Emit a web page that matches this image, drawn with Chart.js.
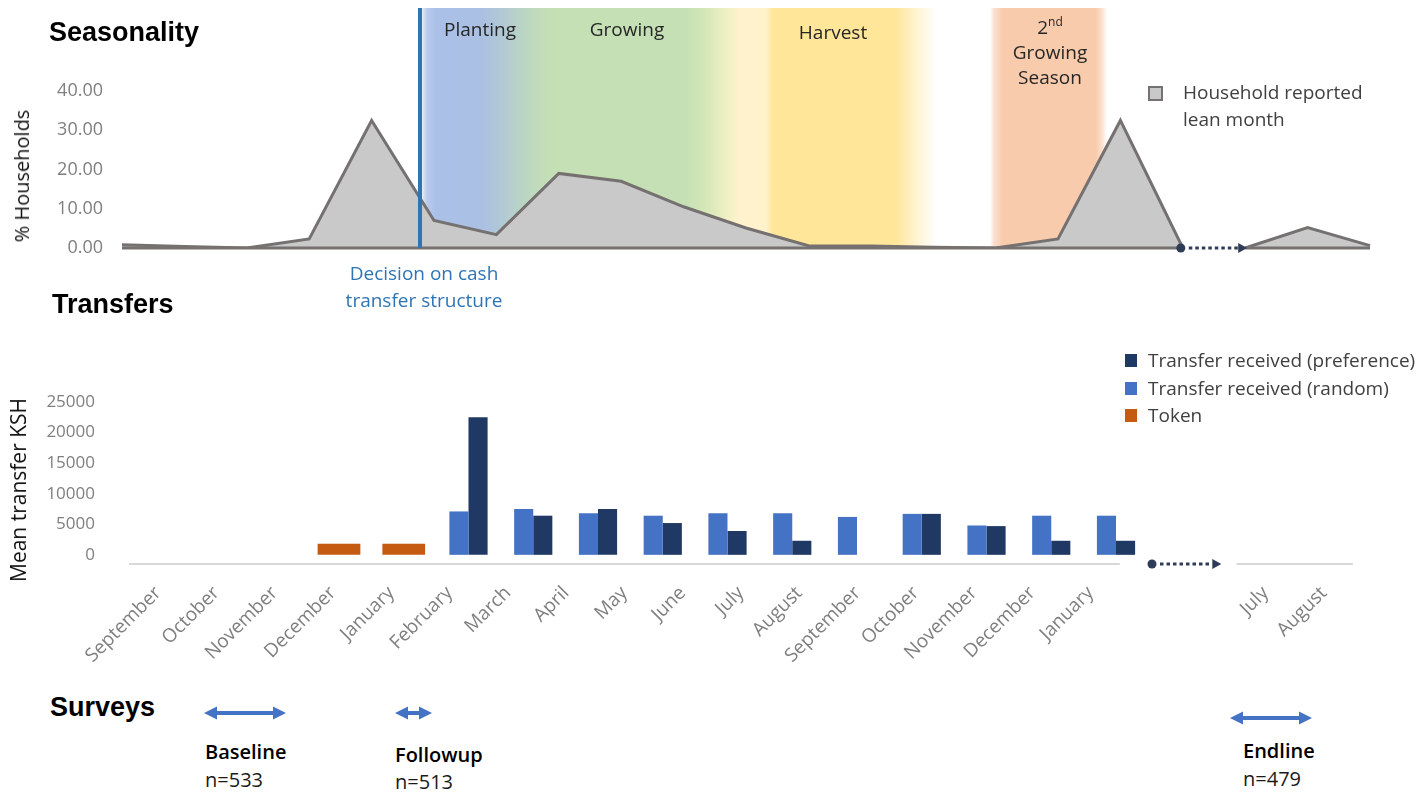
<!DOCTYPE html>
<html lang="en">
<head>
<meta charset="utf-8">
<title>Seasonality, transfers and surveys</title>
<script src="https://cdn.jsdelivr.net/npm/chart.js@4.4.1/dist/chart.umd.min.js"></script>
<style>
  html, body { margin:0; padding:0; background:#fff; }
  #page { position:relative; width:1422px; height:793px; overflow:hidden;
          font-family:"Open Sans","DejaVu Sans",sans-serif; color:#262626; }
  .abs { position:absolute; white-space:nowrap; }
  .head { font-family:"Liberation Sans",Arial,sans-serif; font-weight:700; font-size:27px; line-height:26px; color:#000; }
  .phase { font-size:19px; line-height:25px; color:#262626; text-align:center; transform:translateX(-50%); }
  .phase sup { font-size:12px; line-height:0; position:relative; top:-1px; }
  .ytitle { font-size:20px; line-height:24px; color:#111; transform:translate(-50%,-50%) rotate(-90deg); }
  .legtxt { font-size:19px; line-height:27px; color:#404040; }
  .survey { font-size:20px; line-height:28px; color:#000; }
  canvas { position:absolute; left:0; }
</style>
</head>
<body>
<div id="page">

  <!-- season bands behind the lean-month area -->
  <div class="abs" style="left:421px; top:8px; width:516px; height:240px;
       background:linear-gradient(to right,
         #ffffff 0px, #dce5f5 2px, #b9cbec 6px, #abc0e7 15px, #aac0e3 60px, #b1c8d6 80px,
         #b9d4c5 100px, #c2ddb8 120px, #c5e0b4 135px, #c5e0b4 265px, #d6e7b8 285px,
         #eef0c2 305px, #fff2cc 318px, #fff2cc 345px, #ffe699 352px, #ffe699 475px,
         #fff3d1 495px, #ffffff 516px);"></div>
  <div class="abs" style="left:990px; top:8px; width:117px; height:240px;
       background:linear-gradient(to right,
         rgba(248,203,173,0) 0px, #fbe0cf 4px, #f8cbad 13px, #f8cbad 106px,
         #fbe0cf 112px, rgba(248,203,173,0) 117px);"></div>

  <canvas id="season" width="1422" height="290" style="top:0;"></canvas>

  <!-- moment the transfer structure was decided -->
  <div class="abs" style="left:418px; top:8px; width:4px; height:240px; background:#2e75b6;"></div>

  <div class="abs head" style="left:49px; top:19px;">Seasonality</div>
  <div class="abs phase" style="left:480px; top:17px;">Planting</div>
  <div class="abs phase" style="left:627px; top:17px;">Growing</div>
  <div class="abs phase" style="left:833px; top:20px;">Harvest</div>
  <div class="abs phase" style="left:1050px; top:15px;">2<sup>nd</sup><br>Growing<br>Season</div>

  <div class="abs ytitle" style="left:22px; top:176px;">% Households</div>

  <div class="abs" style="left:1148px; top:86px; width:15px; height:15px; box-sizing:border-box;
       background:#c9c9c9; border:2px solid #767171;"></div>
  <div class="abs legtxt" style="left:1183px; top:79px;">Household reported<br>lean month</div>

  <div class="abs phase" style="left:424px; top:260px; font-size:19px; line-height:27px; color:#2e75b6;">Decision on cash<br>transfer structure</div>

  <div class="abs head" style="left:52px; top:291px;">Transfers</div>

  <canvas id="transfers" width="1422" height="300" style="top:380px;"></canvas>

  <div class="abs ytitle" style="left:18px; top:490px; font-size:21px;">Mean transfer KSH</div>
  <div id="transferLegend"></div>

  <div class="abs head" style="left:50px; top:694px;">Surveys</div>
  <svg id="surveyArrows" class="abs" style="left:0; top:690px;" width="1422" height="50"></svg>
  <div id="surveyLabels"></div>
</div>

<script>
// ---- Seasonality: share of households naming each month as a lean month ----
const seasonMonths = ['Sep','Oct','Nov','Dec','Jan','Feb','Mar','Apr','May','Jun','Jul','Aug',
                      'Sep','Oct','Nov','Dec','Jan','Feb','Jul','Aug','Sep'];
const leanPct = [0.8, 0.4, 0.0, 2.3, 32.5, 7.0, 3.4, 19.0, 17.0, 10.5, 5.1, 0.6,
                 0.5, 0.2, 0.0, 2.3, 32.5, 0.0, 0.0, 5.2, 0.6];
const leanTicks = [0, 10, 20, 30, 40];
const seasonBreakAfter = 17;   // the timeline jumps from here to the next July

// ---- Transfers (KSH) ----
const timelineLabels = ['September','October','November','December','January','February','March',
                        'April','May','June','July','August','September','October','November',
                        'December','January','','','July','August'];
const transferMonthIndex = [3, 4, 5, 6, 7, 8, 9, 10, 11, 12, 13, 14, 15]; // months since first September
const tokenKsh      = [1800, 1800, null, null, null, null, null, null, null, null, null, null, null];
const randomKsh     = [null, null, 7100, 7500, 6800, 6400, 6800, 6800, 6200, 6700, 4800, 6400, 6400];
const preferenceKsh = [null, null, 22500, 6400, 7500, 5200, 3900, 2300, null, 6700, 4700, 2300, 2300];
const kshTicks = [0, 5000, 10000, 15000, 20000, 25000];

// ---- Surveys ----
const surveyNames = ['Baseline', 'Followup', 'Endline'];
const surveyN = [533, 513, 479];

const GRAY = '#7f7f7f';
const NAVY = '#2f3c58';

function drawDottedArrow(ctx, x0, x1, y) {
  ctx.save();
  ctx.fillStyle = NAVY;
  ctx.beginPath(); ctx.arc(x0, y, 4.5, 0, Math.PI * 2); ctx.fill();
  const head = 9;
  for (let x = x0 + 8; x < x1 - head - 2; x += 6.5) ctx.fillRect(x, y - 1.5, 3.5, 3);
  ctx.beginPath();
  ctx.moveTo(x1, y); ctx.lineTo(x1 - head, y - 5); ctx.lineTo(x1 - head, y + 5);
  ctx.closePath(); ctx.fill();
  ctx.restore();
}

// nudge layout padding until the plot area sits on the wanted box
function fitPlotArea(chart, target) {
  for (let k = 0; k < 4; k++) {
    const a = chart.chartArea;
    const p = chart.config.options.layout.padding;
    const dT = target.top - a.top, dB = a.bottom - target.bottom;
    const dL = target.left - a.left, dR = a.right - target.right;
    if (Math.abs(dT) + Math.abs(dB) + Math.abs(dL) + Math.abs(dR) < 0.5) break;
    chart.config.options.layout.padding = {
      top: Math.max(0, p.top + dT), bottom: Math.max(0, p.bottom + dB),
      left: Math.max(0, p.left + dL), right: Math.max(0, p.right + dR)
    };
    chart.update();
  }
}

// baseline of the area (broken where the timeline skips) and the skip arrow
const seasonBreakPlugin = {
  id: 'seasonBreak',
  afterDatasetsDraw(chart) {
    const xs = chart.scales.x, ys = chart.scales.y, ctx = chart.ctx;
    const y0 = ys.getPixelForValue(0);
    ctx.save();
    ctx.strokeStyle = '#767171'; ctx.lineWidth = 3;
    ctx.beginPath();
    ctx.moveTo(xs.getPixelForValue(0), y0); ctx.lineTo(xs.getPixelForValue(seasonBreakAfter), y0);
    ctx.moveTo(xs.getPixelForValue(seasonBreakAfter + 1), y0); ctx.lineTo(xs.getPixelForValue(leanPct.length - 1), y0);
    ctx.stroke();
    ctx.restore();
    drawDottedArrow(ctx, xs.getPixelForValue(seasonBreakAfter) - 2, xs.getPixelForValue(seasonBreakAfter + 1) + 2, y0);
  }
};

const seasonChart = new Chart(document.getElementById('season'), {
  type: 'line',
  data: {
    labels: seasonMonths,
    datasets: [{
      label: 'Household reported lean month',
      data: leanPct,
      fill: 'origin',
      backgroundColor: '#c9c9c9',
      borderColor: '#767171',
      borderWidth: 3,
      borderJoinStyle: 'miter',
      pointRadius: 0,
      tension: 0,
      segment: { borderColor: c => c.p0DataIndex === seasonBreakAfter ? 'rgba(0,0,0,0)' : undefined }
    }]
  },
  options: {
    responsive: false, animation: false, events: [],
    layout: { padding: { top: 91, bottom: 42, left: 0, right: 52 } },
    plugins: { legend: { display: false }, tooltip: { enabled: false } },
    scales: {
      x: { display: false, offset: false },
      y: {
        min: 0, max: 40,
        afterFit(s) { s.width = 122; },
        afterBuildTicks(s) { s.ticks = leanTicks.map(v => ({ value: v })); },
        grid: { display: false, drawTicks: true, tickLength: 19 },
        border: { display: false },
        ticks: { padding: 0, color: GRAY, font: { family: 'Open Sans', size: 18 },
                 callback: v => Number(v).toFixed(2) }
      }
    }
  },
  plugins: [seasonBreakPlugin]
});
fitPlotArea(seasonChart, { left: 122, right: 1370, top: 91, bottom: 248 });

// broken category axis line and skip arrow under the transfers
const transferAxisPlugin = {
  id: 'transferAxis',
  afterDraw(chart) {
    const xs = chart.scales.x, ctx = chart.ctx, area = chart.chartArea;
    const y = area.bottom;
    const w = xs.getPixelForValue(1) - xs.getPixelForValue(0);
    const gapFirst = timelineLabels.indexOf('');
    const gapLast = timelineLabels.lastIndexOf('');
    ctx.save();
    ctx.strokeStyle = '#d9d9d9'; ctx.lineWidth = 2;
    ctx.beginPath();
    ctx.moveTo(area.left, y); ctx.lineTo(xs.getPixelForValue(gapFirst) - w / 2, y);
    ctx.moveTo(xs.getPixelForValue(gapLast) + w / 2, y); ctx.lineTo(area.right, y);
    ctx.stroke();
    ctx.restore();
    drawDottedArrow(ctx, xs.getPixelForValue(gapFirst) + 3, xs.getPixelForValue(gapLast) + 14, y);
  }
};

const toPoints = vals => transferMonthIndex.map((m, i) => ({ x: m, y: vals[i] }));

const transferChart = new Chart(document.getElementById('transfers'), {
  type: 'bar',
  data: {
    labels: timelineLabels,
    datasets: [
      { label: 'Transfer received (random)', data: toPoints(randomKsh), backgroundColor: '#4472c4',
        xAxisID: 'xb', categoryPercentage: 0.59, barPercentage: 1 },
      { label: 'Transfer received (preference)', data: toPoints(preferenceKsh), backgroundColor: '#203864',
        xAxisID: 'xb', categoryPercentage: 0.59, barPercentage: 1 },
      { label: 'Token', data: toPoints(tokenKsh), backgroundColor: '#c55a11',
        xAxisID: 'xb', grouped: false, categoryPercentage: 0.66, barPercentage: 1 }
    ]
  },
  options: {
    responsive: false, animation: false, events: [],
    layout: { padding: { top: 22, bottom: 0, left: 0, right: 69 } },
    plugins: { legend: { display: false }, tooltip: { enabled: false } },
    scales: {
      x: {
        type: 'category', offset: true,
        grid: { display: false, drawTicks: false },
        border: { display: false },
        afterFit(s) { s.height = 116; },
        ticks: { autoSkip: false, minRotation: 45, maxRotation: 45, padding: 18,
                 color: GRAY, font: { family: 'Open Sans', size: 19 } }
      },
      xb: {
        type: 'linear', display: false, offset: false, min: -0.243, max: 18.66,
        afterBuildTicks(s) { s.ticks = transferMonthIndex.map(v => ({ value: v })); }
      },
      y: {
        min: -1500, max: 25000,
        afterFit(s) { s.width = 129; },
        afterBuildTicks(s) { s.ticks = kshTicks.map(v => ({ value: v })); },
        grid: { display: false, drawTicks: true, tickLength: 34 },
        border: { display: false },
        ticks: { padding: 0, color: GRAY, font: { family: 'Open Sans', size: 17 },
                 callback: v => String(v) }
      }
    }
  },
  plugins: [transferAxisPlugin]
});
fitPlotArea(transferChart, { left: 129, right: 1353, top: 22, bottom: 184 });

// legend for the transfers, listed preference / random / token
(function buildLegend() {
  const order = [1, 0, 2];
  const box = document.getElementById('transferLegend');
  order.forEach((di, row) => {
    const ds = transferChart.data.datasets[di];
    const top = 347 + row * 27.5;
    const sq = document.createElement('div');
    sq.className = 'abs';
    sq.style.cssText = `left:1125px; top:${top + 7}px; width:12px; height:13px; background:${ds.backgroundColor};`;
    const tx = document.createElement('div');
    tx.className = 'abs legtxt';
    tx.style.cssText = `left:1148px; top:${top}px;`;
    tx.textContent = ds.label;
    box.appendChild(sq); box.appendChild(tx);
  });
})();

// survey rounds: double-headed arrows with name and sample size
(function buildSurveys() {
  const spans = [[204, 286, 713], [395, 432, 713], [1230, 1312, 718]];
  const textPos = [[205, 738, 766], [395, 741, 768], [1243, 737, 765]];
  const svg = document.getElementById('surveyArrows');
  const top = 690;
  let html = '';
  spans.forEach(([x1, x2, yy]) => {
    const y = yy - top, head = 13, half = 6.5, t = 2;
    html += `<polygon fill="#4472c4" points="${x1},${y} ${x1 + head},${y - half} ${x1 + head},${y - t} ` +
            `${x2 - head},${y - t} ${x2 - head},${y - half} ${x2},${y} ${x2 - head},${y + half} ` +
            `${x2 - head},${y + t} ${x1 + head},${y + t} ${x1 + head},${y + half}"/>`;
  });
  svg.innerHTML = html;
  const lab = document.getElementById('surveyLabels');
  surveyNames.forEach((name, i) => {
    const [x, y1, y2] = textPos[i];
    const a = document.createElement('div');
    a.className = 'abs survey';
    a.style.cssText = `left:${x}px; top:${y1}px; font-weight:600;`;
    a.textContent = name;
    const b = document.createElement('div');
    b.className = 'abs survey';
    b.style.cssText = `left:${x}px; top:${y2}px; color:#1a1a1a;`;
    b.textContent = 'n=' + surveyN[i];
    lab.appendChild(a); lab.appendChild(b);
  });
})();
</script>
</body>
</html>
